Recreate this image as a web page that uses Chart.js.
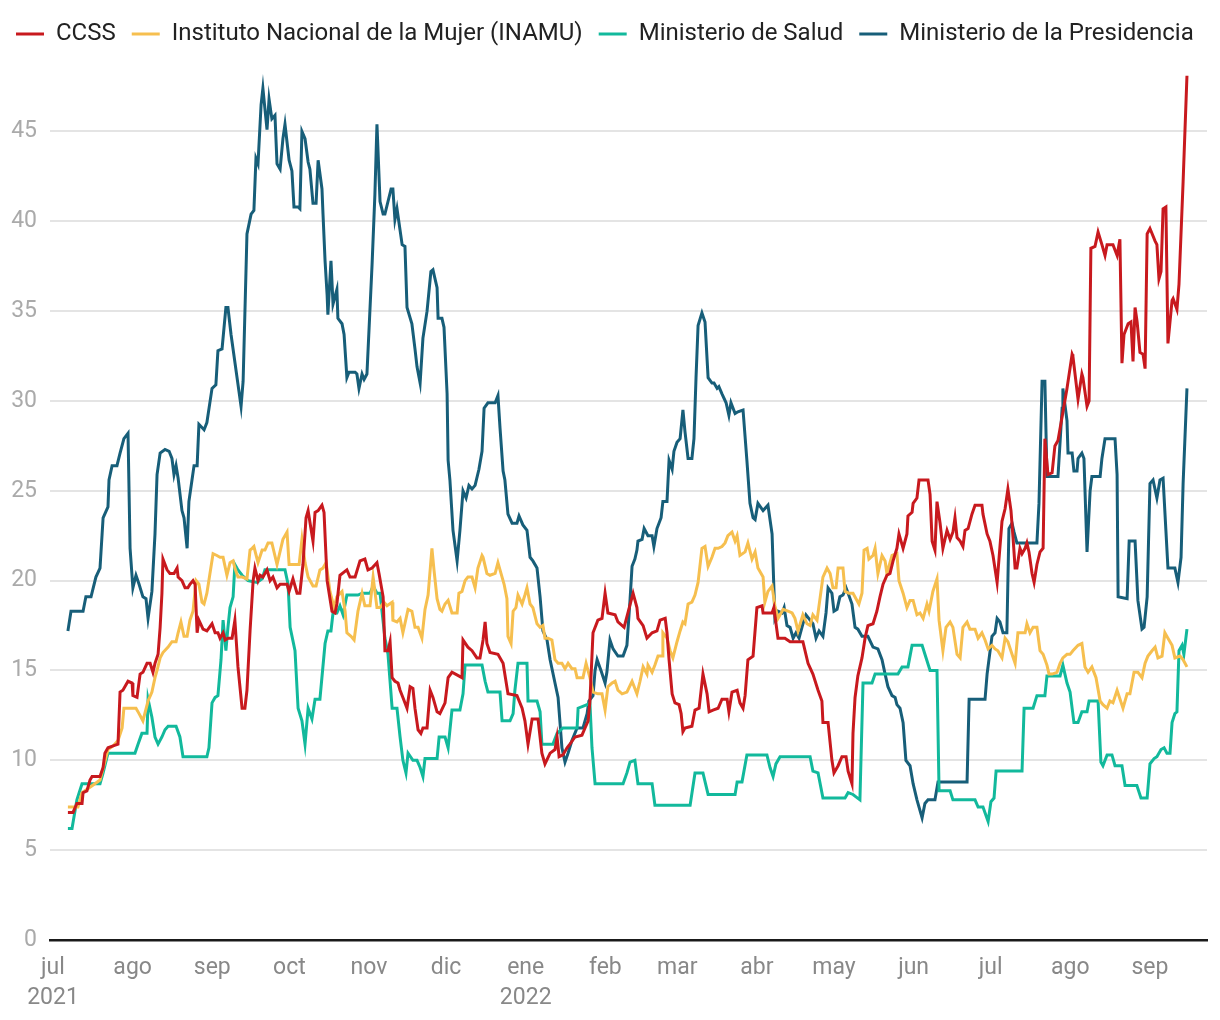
<!DOCTYPE html>
<html><head><meta charset="utf-8">
<script src="https://cdn.jsdelivr.net/npm/chart.js@4.4.1/dist/chart.umd.min.js"></script>
<style>html,body{margin:0;padding:0;background:#fff}#wrap{width:1220px;height:1020px}</style>
</head><body><div id="wrap"><canvas id="c" width="1220" height="1020"></canvas></div>
<script>
// x = days since 2021-07-01, y = value
const seriesNames = ['CCSS','Instituto Nacional de la Mujer (INAMU)','Ministerio de Salud','Ministerio de la Presidencia'];
const seriesColors = ['#c8191e','#f6bf4f','#12b99c','#175e79'];

const ccss = [[5.8,7.1],[7.8,7.1],[9.3,7.6],[11.3,7.6],[11.7,8.2],[13.2,8.3],[14.4,8.9],[15.2,9.1],[18.3,9.1],[19.5,9.6],[20.2,10.4],[21.4,10.7],[23.4,10.8],[25.3,10.9],[26.1,13.8],[27.2,13.9],[29.2,14.4],[30.8,14.3],[31.1,13.6],[32.7,13.5],[33.9,14.8],[35,14.9],[36.6,15.4],[37.8,15.4],[38.9,14.9],[39.7,15.4],[40.9,15.9],[41.7,17.4],[42.4,19.3],[42.8,21.2],[44.4,20.6],[45.5,20.4],[47.1,20.4],[48.3,20.7],[48.7,20.2],[50.2,20],[51.4,19.6],[52.5,19.6],[53.3,19.8],[54.5,20],[55.3,19.8],[56.1,17.1],[56.8,17.8],[58.4,17.3],[59.9,17.2],[61.9,17.6],[63.1,17.1],[64.2,17.1],[65,16.8],[66.2,17.1],[67,16.7],[68.1,16.8],[69.7,16.8],[70.8,17.8],[72,15.2],[73.6,12.9],[74.7,12.9],[75.5,13.9],[76.7,17.2],[77.9,20],[78.6,20.7],[79.8,20],[80.6,20.3],[81.7,20.2],[83.3,20.6],[84.5,20],[85.6,20.2],[87.2,19.6],[88.4,19.8],[91.1,19.8],[91.9,19.4],[93.4,20.1],[95,19.3],[96.1,19.3],[97.3,20.9],[98.5,23.5],[99.3,23.9],[100.4,22.9],[101.2,22.2],[102,23.8],[103.2,23.9],[104.7,24.2],[105.5,23.8],[106.7,20],[108.6,18.3],[109.8,18.2],[110.5,18.7],[111.7,20.3],[114.4,20.6],[115.6,20.2],[117.6,20.2],[119.5,21.1],[121.4,21.2],[122.6,20.6],[124.2,20.7],[126.1,21],[126.9,20.4],[128.5,19.1],[129.2,16.1],[130.4,16.1],[131.2,16.6],[132,14.6],[133.1,14.4],[134.3,14.3],[135.1,13.9],[136.2,13.5],[137.8,12.9],[139,14.1],[140.1,14],[140.9,12.9],[142.1,11.7],[143.2,11.5],[144,11.8],[145.6,11.8],[146.8,13.9],[147.9,13.5],[149.5,12.7],[150.6,12.6],[152.6,13.2],[153.8,14.6],[155.3,14.9],[159.2,14.6],[159.6,16.7],[161.5,16.3],[163.1,16.1],[165,15.7],[166.2,15.7],[167.4,16.7],[168.2,17.7],[168.9,16.5],[170.1,16],[173.2,15.9],[175.2,15.4],[177.1,13.7],[180.6,13.6],[182.6,12.9],[183.7,12.2],[184.9,10.9],[186.5,12.3],[188.8,12.3],[190.3,10.4],[191.5,9.8],[193.5,10.4],[195.4,10.6],[196.2,11.3],[197,10.2],[198.5,10.3],[200.1,10.7],[201.2,10.9],[203.2,11.3],[205.9,11.4],[207.1,11.8],[208.3,12.2],[209,13.3],[210.2,17.1],[212.1,17.8],[213.7,17.9],[214.9,19.3],[216,18.2],[218.8,18.1],[219.9,17.7],[222.3,17.4],[225.8,19.3],[227.3,18.5],[227.7,17.9],[229.7,17.5],[231.2,16.8],[233.2,17.1],[235.1,17.2],[236.3,17.8],[238.3,17.9],[239,17.1],[239.8,15.6],[241,13.7],[242.1,13.2],[243.7,13.1],[244.5,12.6],[245.2,11.6],[246,11.8],[248.7,11.9],[249.9,12.8],[251.5,12.9],[253,14.8],[254.6,13.7],[255.4,12.7],[256.9,12.8],[258.9,12.9],[260.4,13.4],[262.4,13.4],[263.1,12.7],[264.3,13.8],[266.3,13.9],[267.4,13.2],[268.6,12.9],[269.4,13.6],[270.5,15.6],[272.5,15.8],[274,18.5],[276,18.6],[276.4,18.2],[279.9,18.2],[280.6,18.5],[282.2,16.8],[284.9,16.8],[286.9,16.6],[291.9,16.6],[293.9,15.4],[295.8,14.8],[297.8,13.9],[299.3,13.3],[299.7,12.1],[301.7,12.1],[303.2,10],[304,9.3],[305.6,9.7],[307.1,10.2],[308.7,10.2],[309.5,9.4],[311,8.7],[311.4,11.5],[312.2,13.5],[313.3,14.7],[314.9,15.7],[316.1,16.8],[317.2,17.5],[319.2,17.6],[320.7,18.3],[321.9,19.1],[323.1,19.8],[324.6,20.3],[325.8,20.4],[327,21.1],[328.5,21.8],[329.3,22.6],[330.9,21.8],[332.4,22.6],[332.8,23.6],[334.4,23.8],[334.8,24.3],[336.3,24.6],[337.1,25.6],[340.6,25.6],[341.4,24.8],[342.2,22.2],[343.3,21.7],[344.1,24.4],[345.3,23.2],[346.4,21.8],[348,22.8],[349.2,22.3],[350.3,22.7],[351.1,23.5],[351.9,22.4],[353.1,22.2],[354.2,21.9],[355,22.8],[356.2,22.9],[357.7,23.7],[358.9,24.2],[361.6,24.2],[362,23.7],[363.6,22.6],[364.7,22.2],[365.9,21.4],[367.5,19.9],[369.4,23.3],[370.6,24],[371.7,25.1],[372.9,23.9],[373.7,22.4],[374.5,20.7],[375.2,20.7],[376.4,21.8],[377.2,21.5],[378.4,21.8],[379.1,22.1],[379.9,21.6],[381.1,20.4],[381.9,19.9],[383,20.9],[384.2,21.6],[385.4,21.8],[386.1,27.9],[387.3,25.9],[388.9,26],[390,27.5],[391.2,27.8],[394.7,30.7],[396.7,32.6],[397,32.5],[399,30.1],[400.5,31.5],[400.9,31.3],[402.5,29.7],[403.3,30],[404,38.5],[405.6,38.6],[406.8,39.4],[408.3,38.7],[409.5,38.1],[410.3,38.7],[412.6,38.7],[414.2,38.1],[415.3,39],[416.1,32.1],[416.9,33.7],[418.5,34.3],[419.6,34.4],[420.4,32.2],[421.2,35.2],[422,34.4],[423.1,32.7],[424.3,32.6],[425.1,31.8],[425.9,39.3],[427,39.6],[429,38.9],[429.7,38.7],[430.5,36.8],[431.3,37.2],[432.1,40.7],[433.2,40.8],[434,33.2],[435.6,35.6],[436,35.7],[437.5,35.1],[438.3,36.5],[439.9,42.2],[441.4,48.1]];

const inamu = [[5.8,7.4],[9.7,7.4],[11.3,8.2],[14.4,8.5],[16.3,8.7],[18.3,8.9],[21.4,10.6],[23.4,10.8],[25.3,11.1],[26.9,11.8],[27.6,12.9],[32.3,12.9],[33.5,12.6],[35,12.2],[37,13.3],[38.5,13.8],[39.7,14.6],[40.5,15],[41.7,15.7],[42.8,16],[44.8,16.3],[46.3,16.6],[47.9,16.6],[48.7,17.1],[49.8,17.7],[51,16.9],[52.2,16.9],[53.3,17.8],[54.5,18.3],[55.7,20],[56.8,19.8],[58,18.8],[58.8,18.7],[59.9,19.3],[62.3,21.5],[63.8,21.4],[65,21.3],[66.2,21.3],[67.7,20.3],[68.9,21],[70.1,21.1],[70.8,20.7],[72,20.2],[73.6,20.2],[75.5,20.1],[76.7,21.7],[77.5,21.8],[78.2,21.9],[79.8,21],[81.4,21.7],[82.5,21.7],[83.7,22.1],[85.2,22.1],[87.2,20.9],[89.5,22.3],[91.1,22.7],[91.9,20.9],[95.8,20.9],[96.9,22.3],[98.1,21],[99.3,20.2],[101.2,19.7],[102.4,19.7],[103.9,20.6],[105.1,20.7],[106.3,21],[107.8,19.4],[109.4,18.5],[110.5,19.1],[112.5,19.4],[113.7,18.3],[114.4,17.1],[116,16.9],[117.2,16.7],[118.7,18.3],[120.3,19.3],[121.4,18.6],[123.4,18.6],[124.6,20.2],[126.1,18.5],[127.3,18.5],[128.8,18.8],[130,18.6],[132,18.8],[132.3,17.8],[133.9,17.7],[135.1,17.9],[136.2,17.1],[138.2,18.4],[139.7,18.3],[140.9,17.4],[142.1,17.4],[143.6,16.8],[144.8,18.4],[146,19.2],[147.5,21.8],[148.3,20.6],[149.5,19],[150.6,18.4],[151.4,18.3],[152.6,18.7],[153.8,18.9],[155.3,18.2],[157.3,18.2],[158,19.3],[159.2,19.4],[160.4,20],[161.5,20.2],[163.1,20.2],[164.3,19.6],[165.4,20.7],[167,21.4],[167.4,21.3],[168.9,20.4],[170.1,20.3],[172.1,20.4],[173.2,21],[174.8,20.2],[175.6,19.8],[176.7,19],[177.1,16.9],[178.3,16.5],[179.1,18.3],[180.2,18.5],[181,19.2],[182.6,18.7],[183.7,19.2],[184.5,19.6],[185.7,18.7],[186.8,18.5],[188.4,17.6],[189.6,17.4],[190.7,17.5],[191.5,16.8],[192.7,16.8],[194.2,16.7],[195.4,15.6],[196.6,15.4],[198.1,15.4],[199.3,15.1],[200.5,15.4],[202,15.1],[203.2,15.1],[204,14.6],[206.3,14.6],[207.5,15.4],[209,14.6],[210.2,13.8],[212.1,13.7],[213.7,13.7],[214.9,12.8],[216,14.1],[217.6,14.3],[218.8,14.4],[219.9,13.9],[221.5,13.7],[223.4,13.8],[225.4,14.4],[227.3,13.7],[228.5,14.4],[229.7,15.2],[231.2,14.8],[231.6,15.3],[233.2,14.9],[234.3,15.3],[235.5,15.8],[237.1,15.8],[237.4,17.1],[239,16.8],[240.2,16.1],[241.3,15.7],[242.9,16.6],[244.1,17.2],[245.2,17.7],[246,17.6],[247.2,18.7],[248.7,18.8],[249.9,19.2],[251.1,19.9],[252.6,21.8],[253.8,21.9],[255,20.8],[256.5,21.3],[257.7,21.8],[258.9,21.8],[260.4,21.9],[261.6,22.1],[262.7,22.5],[264.3,22.7],[265.5,22.2],[266.3,22.5],[267.4,21.4],[269.4,21.6],[270.5,22.1],[272.1,21.2],[273.3,21.6],[274.4,20.7],[276.4,20.2],[277.1,18.8],[278.3,19.4],[279.9,19.7],[281,18.6],[282.2,17.9],[284.2,18.4],[286.1,18.3],[287.7,18.2],[288.8,17.9],[290,17.2],[291.9,18.1],[293.5,17.6],[294.7,17.5],[295.8,18.1],[297.4,17.8],[299.7,20.2],[301.3,20.7],[302.5,20.4],[303.6,19.6],[304.8,19.6],[305.6,20.7],[307.5,20.7],[308.3,19.4],[309.8,19.3],[311.4,19.3],[313.7,18.7],[314.9,19.3],[315.7,21.7],[316.9,21.8],[317.6,21.2],[319.2,21.4],[320,21.8],[321.1,20.4],[322.7,21.4],[323.9,21.1],[324.6,20.4],[326.6,21.4],[328.5,21.5],[329.3,20],[330.9,19.3],[332.4,18.5],[333.6,18.9],[334.8,18.9],[336.3,18.1],[337.5,18.2],[338.7,17.9],[340.2,18.7],[341,18.3],[342.5,19.4],[344.1,20.1],[344.9,17.8],[346.4,16.1],[347.6,17.4],[349.2,17.7],[350.3,17.4],[351.9,15.9],[353.1,15.7],[354.2,17.4],[355.8,17.7],[356.9,17.3],[358.9,17.3],[360.1,16.8],[361.6,17.1],[362.8,16.7],[364,16.2],[365.5,16.4],[366.7,16.2],[367.8,16.1],[369.4,15.7],[370.6,16.8],[371.7,16.6],[373.3,15.9],[374.5,15.4],[375.6,17.1],[377.2,17.1],[378.4,17.1],[379.1,17.6],[380.3,17.1],[381.5,17.4],[383,17.4],[384.2,16.1],[385.4,15.9],[386.9,15.3],[387.7,14.8],[388.9,14.8],[390.8,14.9],[392,15.4],[393.1,15.7],[394.7,15.9],[395.9,15.9],[397,16.1],[399,16.4],[400.5,16.5],[401.7,15.2],[402.9,14.9],[404.4,15.2],[406,14.6],[407.6,13.3],[408.7,13.1],[410.3,12.9],[411.4,13.3],[412.6,13.2],[414.2,13.9],[416.5,12.9],[418.1,13.7],[419.2,13.7],[420.8,14.9],[422.3,14.9],[423.9,14.6],[425.1,15.4],[426.2,15.8],[427.8,16.1],[429,16.3],[430.1,15.7],[431.7,15.8],[432.8,17.1],[434,16.8],[435.6,16.4],[436.7,15.7],[438.7,15.8],[439.9,15.6],[441.4,15.2]];

const salud = [[5.8,6.2],[7.4,6.2],[9.3,7.8],[11.3,8.7],[18.3,8.7],[19.5,9.3],[21.4,10.4],[31.9,10.4],[33.1,10.9],[34.6,11.5],[36.6,11.5],[37,13.4],[38.5,12.4],[39.7,11.3],[40.9,10.9],[42.4,11.3],[43.6,11.7],[44.8,11.9],[47.9,11.9],[49.4,11.3],[50.6,10.2],[59.9,10.2],[60.7,10.7],[61.9,13.2],[63.1,13.5],[64.2,13.6],[65.4,15.6],[66.2,17.8],[67.3,16.1],[68.1,17.4],[68.9,18.5],[70.1,19.1],[70.8,20.9],[72,20.6],[73.6,20.3],[75.9,20],[79.4,19.9],[81.4,20.1],[82.5,20.6],[90.3,20.6],[91.5,19.8],[92.3,17.4],[94.2,16.1],[95.4,12.9],[96.9,12.2],[98.1,10.9],[99.3,12.9],[100.8,12.3],[102,13.4],[103.9,13.4],[105.9,16.5],[107,17.2],[108.2,17.2],[109,18.2],[110.5,18.2],[111.7,18.6],[112.9,18.1],[114.4,19.2],[118.7,19.2],[120.3,19.3],[123.4,19.3],[124.6,19.7],[126.1,19.3],[127.3,19.3],[129.2,16.8],[130.4,15.9],[132,12.9],[133.9,12.9],[135.1,11.3],[136.2,10],[137.4,9.3],[138.2,10.4],[140.1,10],[141.7,10],[142.9,9.6],[144,9.1],[144.8,10.1],[149.5,10.1],[150.3,11.3],[152.6,11.3],[153.8,10.7],[155.3,12.8],[158.4,12.8],[159.6,13.7],[160.4,15.3],[167,15.3],[168.2,14.4],[169.3,13.8],[174,13.8],[174.8,12.2],[177.9,12.2],[179.1,12.6],[179.8,13.9],[181,15.4],[184.5,15.4],[184.9,13.3],[188.4,13.3],[189.6,12.7],[190.3,10.9],[194.6,10.9],[196.2,11.5],[198.5,11.8],[204,11.8],[204.4,12.9],[207.9,13.1],[209,13.2],[209.8,10.7],[211,8.7],[221.9,8.7],[223.4,9.3],[224.6,9.9],[226.5,10],[227.7,8.7],[233.2,8.7],[234.3,7.5],[248,7.5],[249.9,9.3],[253,9.3],[255,8.1],[265.5,8.1],[266.3,8.8],[268.2,8.8],[270.1,10.3],[277.9,10.3],[279.1,9.6],[280.3,9.1],[281.4,9.8],[283,10.2],[294.7,10.2],[295.8,9.4],[297.8,9.3],[299.7,7.9],[308.3,7.9],[309.5,8.2],[311.4,8.1],[314.1,7.8],[315.3,14.3],[318.8,14.3],[320,14.8],[328.9,14.8],[330.5,15.2],[332.8,15.2],[334.4,16.4],[338.3,16.4],[341.4,15],[344.1,15],[344.9,8.3],[349.2,8.3],[350.3,7.8],[358.9,7.8],[360.1,7.4],[362,7.4],[364,6.6],[365.1,7.7],[366.3,7.9],[367.1,9.4],[377.2,9.4],[378,12.9],[381.5,12.9],[383,13.6],[386.1,13.6],[386.9,14.7],[392,14.7],[393.1,15.3],[394.7,14.3],[395.9,13.8],[397.4,12.1],[399,12.1],[400.5,12.7],[402.5,12.7],[403.3,13.3],[406.8,13.3],[407.9,9.9],[408.7,9.7],[410.3,10.3],[412.2,10.3],[413.4,9.7],[416.1,9.7],[417.3,8.6],[421.9,8.6],[423.5,7.9],[425.9,7.9],[427,9.8],[428.6,10.1],[429.7,10.2],[431.3,10.6],[432.5,10.7],[433.6,10.4],[434.8,10.4],[435.6,12.1],[436.7,12.6],[437.5,12.7],[438.3,16.1],[439.5,16.4],[440.2,15.9],[441.4,17.3]];

const presidencia = [[5.8,17.2],[7,18.3],[11.7,18.3],[12.8,19.1],[14.8,19.1],[16.7,20.2],[18.3,20.7],[19.5,23.5],[21.4,24.1],[21.8,25.6],[23,26.4],[24.9,26.4],[26.1,27.1],[27.6,27.9],[29.2,28.2],[30,21.8],[31.1,19.6],[32.3,20.3],[33.5,19.8],[35,19.1],[36.2,19],[37,17.9],[38.5,19.4],[39.7,22.6],[40.5,25.9],[41.7,27.1],[43.6,27.3],[45.2,27.2],[46.3,26.8],[47.1,25.9],[47.9,26.4],[48.7,25.7],[50.2,23.9],[51,23.5],[52.2,21.8],[52.9,24.4],[54.1,25.6],[54.9,26.4],[56.1,26.4],[56.8,28.7],[58.8,28.4],[59.9,28.8],[61.9,30.7],[63.4,30.9],[64.2,32.8],[65.8,32.9],[67.3,35.2],[68.1,35.2],[69.3,33.7],[73.2,29.7],[74,31.1],[75.5,39.3],[77.1,40.4],[78.2,40.6],[79,43.5],[79.8,43.2],[81,46.5],[81.7,47.4],[83.3,45.1],[84.1,46.8],[85.2,45.7],[86.4,45.9],[87.2,43.2],[88.4,42.9],[89.5,44.6],[90.3,45.4],[91.9,43.4],[93,42.8],[93.8,40.8],[95.4,40.8],[96.1,40.7],[96.9,45],[98.1,44.6],[99.3,43.3],[100,42.9],[101.2,41],[102.4,41],[103.2,43.4],[104.7,41.8],[105.1,40.4],[105.9,37.8],[106.7,35.9],[107,34.8],[108.2,37.8],[109,35.4],[110.5,36.2],[110.9,34.6],[112.5,34.3],[113.3,33.7],[114.4,31.3],[115.2,31.6],[117.6,31.6],[118.3,31.5],[119.1,30.7],[120.3,31.5],[121.1,31.2],[122.2,31.5],[124.2,37.6],[125.3,41.5],[126.1,45.4],[127.3,41.1],[128.5,40.4],[129.2,40.4],[131.6,41.8],[132.3,41.8],[133.1,40.1],[133.9,40.7],[135.9,38.7],[137,38.6],[137.8,35.2],[139.7,34.3],[140.9,32.9],[141.7,31.9],[142.9,31],[144,33.5],[145.6,35],[147.1,37.2],[147.9,37.3],[149.5,36.3],[149.9,34.6],[151.4,34.6],[152.2,34.1],[153.4,30.4],[153.8,26.7],[154.5,25.6],[155.7,22.8],[157.3,21.1],[158.4,22.8],[159.6,25],[160.8,24.6],[161.9,25.3],[163.1,25.1],[164.3,25.3],[165.8,26.2],[167,27.2],[167.8,29.6],[169.3,29.9],[172.1,29.9],[173.2,30.3],[174,28.5],[175.2,26.1],[175.9,25.6],[177.1,23.7],[178.7,23.2],[180.6,23.2],[181.4,23.6],[182.9,23.1],[184.5,22.8],[185.7,21.3],[186.8,21.1],[188.4,20.7],[189.6,19.1],[190.7,17.2],[192.3,16.7],[193.5,15.6],[195.4,14.3],[196.6,13.5],[198.1,10.7],[199.3,9.9],[200.5,10.4],[202,11.1],[204,11.8],[206.3,11.8],[207.9,12.6],[208.6,13.3],[210.2,13.6],[211,15],[211.8,15.6],[213.3,15],[214.9,14.3],[215.6,14.9],[216.8,16.7],[218,16.2],[219.9,15.8],[221.9,15.8],[223.4,16.4],[224.6,18.9],[225.4,20.8],[226.5,21.2],[227.3,21.7],[227.7,22.2],[229.3,22.3],[230.1,22.9],[231.6,22.5],[233.2,22.5],[233.9,21.9],[235.1,22.9],[236.7,23.5],[237.4,24.4],[239,24.4],[239.8,26.7],[241,26.2],[241.7,27.2],[242.9,27.7],[244.1,27.9],[245.2,29.5],[246,28.3],[247.2,26.8],[248.7,26.8],[249.5,27.9],[250.3,31.3],[251.1,34.2],[252.6,34.9],[253.8,34.4],[255,31.3],[256.5,31],[257.3,31],[258.5,30.7],[259.2,30.8],[260.4,30.4],[262,29.9],[263.1,29.2],[263.9,29.9],[265.5,29.3],[266.6,29.4],[268.6,29.5],[270.1,26.7],[271.3,24.3],[272.5,23.5],[273.3,23.4],[274.4,24.3],[276.4,23.9],[278.3,24.2],[279.9,22.6],[281,17.9],[282.2,18.3],[283.8,18.2],[284.6,18.5],[285.7,17.5],[286.9,17.4],[288.1,16.8],[289.2,17.1],[290.4,16.8],[291.9,17.6],[293.1,18.1],[294.7,17.8],[295.8,17.6],[297,16.8],[298.2,17.2],[299.7,16.9],[300.9,18.2],[301.7,19.6],[303.2,19.3],[304,18.3],[305.2,18.4],[306.3,19.1],[307.5,19.2],[308.7,19.6],[309.5,19.3],[311,18.7],[312.2,17.4],[313.3,17.3],[314.9,16.9],[317.2,16.9],[319.2,16.3],[321.1,16.2],[322.7,15.6],[323.9,14.8],[325,14.1],[326.6,13.6],[327.8,13.5],[328.5,13.1],[329.7,12.9],[330.9,12.1],[332,10],[333.6,9.7],[334.8,8.7],[336.3,7.8],[338.3,6.8],[339.4,7.6],[340.6,7.8],[343.3,7.8],[344.5,8.8],[355.8,8.8],[356.6,13.4],[362.8,13.4],[363.6,14.8],[365.5,16.9],[366.7,17.1],[367.5,17.9],[368.6,17.7],[369.8,17.1],[371.3,17.1],[372.1,22.9],[373.3,23.2],[374.1,22.7],[375.2,22.1],[383,22.1],[383.8,24.3],[385,31.1],[386.1,31.1],[386.9,25.8],[391.2,25.8],[392.8,29.6],[393.1,30.7],[394.7,28.9],[395.1,27.1],[396.7,27.1],[397.4,26.1],[398.6,26.1],[399,26.8],[400.5,27.1],[401.3,26.8],[402.5,21.6],[403.7,25],[404.4,25.8],[407.6,25.8],[408.3,26.8],[409.5,27.9],[413.4,27.9],[414.2,25.9],[414.6,19.1],[418.1,19],[418.9,22.2],[421.2,22.2],[422.3,18.9],[423.9,17.3],[424.7,17.4],[425.9,19.1],[427,25.4],[428.2,25.6],[429.7,24.6],[430.9,25.6],[432.1,25.7],[433.2,22.8],[434,20.7],[436.7,20.7],[437.9,19.9],[439.1,21.3],[439.9,25.4],[441.4,30.7]];

const monthDays = [0,31,62,92,123,153,184,215,243,274,304,335,365,396,427];
const monthLabels = ['jul','ago','sep','oct','nov','dic','ene','feb','mar','abr','may','jun','jul','ago','sep'];
const yearLabels = ['2021','','','','','','2022','','','','','','','',''];
const yTicks = [0,5,10,15,20,25,30,35,40,45];

const seriesData = [ccss, inamu, salud, presidencia];
const datasets = seriesData.map((s, i) => ({
  label: seriesNames[i],
  data: s.map(p => ({x: p[0], y: p[1]})),
  borderColor: seriesColors[i],
  backgroundColor: seriesColors[i],
  borderWidth: 3,
  pointRadius: 0,
  tension: 0,
  fill: false
}));

new Chart(document.getElementById('c'), {
  type: 'line',
  data: { datasets },
  options: {
    responsive: false,
    animation: false,
    layout: { padding: { top: 6, right: 0, left: 0, bottom: 0 } },
    plugins: {
      tooltip: { enabled: false },
      legend: {
        position: 'top',
        align: 'start',
        labels: {
          usePointStyle: true,
          pointStyle: 'line',
          pointStyleWidth: 28,
          padding: 16,
          color: '#222',
          font: { family: 'Roboto', size: 24 }
        }
      }
    },
    scales: {
      x: {
        type: 'linear',
        min: -1.17,
        max: 449.2,
        afterFit: s => { s.height = 80; },
        afterBuildTicks: s => { s.ticks = monthDays.map(v => ({ value: v })); },
        grid: { display: false },
        border: { display: true, color: '#1a1a1a', width: 2.5 },
        ticks: {
          autoSkip: false,
          maxRotation: 0,
          padding: 5,
          color: '#888',
          font: { family: 'Roboto', size: 23, lineHeight: 1.3 },
          callback: (v, i) => yearLabels[i] ? [monthLabels[i], yearLabels[i]] : monthLabels[i]
        }
      },
      y: {
        min: 0,
        max: 49.2,
        afterFit: s => { s.width = 50; },
        afterBuildTicks: s => { s.ticks = yTicks.map(v => ({ value: v })); },
        border: { display: false },
        grid: {
          drawTicks: false,
          lineWidth: 2,
          color: c => (c.tick && c.tick.value === 0) ? 'rgba(0,0,0,0)' : '#e4e4e4'
        },
        ticks: {
          padding: 13,
          color: '#aaa',
          font: { family: 'Roboto', size: 23 }
        }
      },
      yRight: {
        type: 'linear',
        position: 'right',
        display: true,
        afterFit: s => { s.width = 13; },
        grid: { display: false, drawTicks: false },
        border: { display: false },
        ticks: { display: false }
      }
    }
  }
});
</script></body></html>
